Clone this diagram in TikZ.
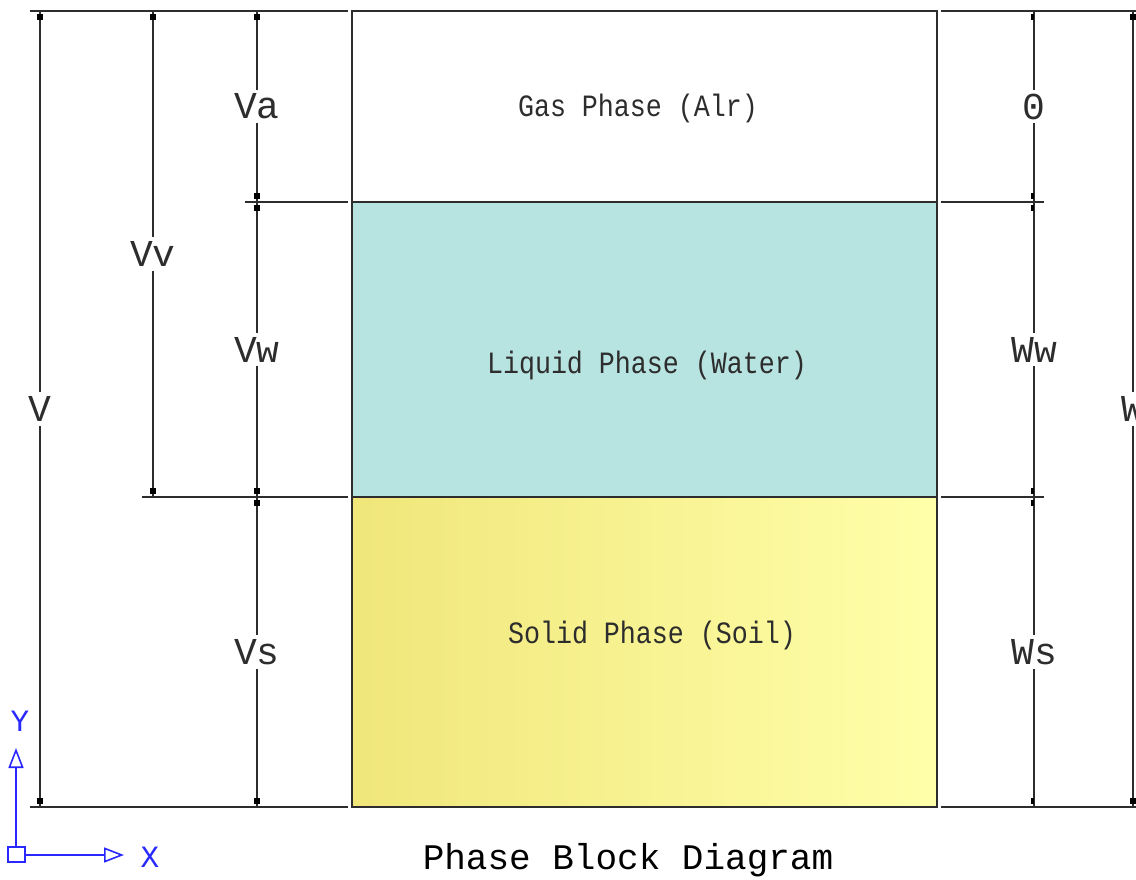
\documentclass[tikz,border=0pt]{standalone}
\usepackage{fontspec}
\setmainfont{Liberation Mono}
\newfontfamily\phasefont[FakeStretch=0.86]{Liberation Mono}
\usepackage{tikz}
\usetikzlibrary{arrows}
\usetikzlibrary{arrows.meta}
\usetikzlibrary{calc}
\usetikzlibrary{positioning}

\definecolor{cadline}{RGB}{45,45,45}
\definecolor{water}{RGB}{183,227,224}
\definecolor{soilleft}{RGB}{240,230,122}
\definecolor{soilright}{RGB}{255,255,170}
\definecolor{ucsblue}{RGB}{40,40,255}

\begin{document}
\begin{tikzpicture}[
    x=1pt, y=-1pt,
    dimline/.style={cadline, line width=2pt},
    dimlabel/.style={fill=white, inner sep=4pt, text=cadline,
      font=\fontsize{38}{38}\selectfont},
    phaselabel/.style={text=cadline, font=\phasefont\fontsize{31}{31}\selectfont},
    ucs/.style={ucsblue, line width=1.6pt}]

    \useasboundingbox (0, 0) rectangle (1136, 880);
    \clip (0, 0) rectangle (1136, 880);

    % phases
    \fill [water] (352, 202) rectangle (937, 497);
    \shade [left color=soilleft, right color=soilright]
    (352, 497) rectangle (937, 807);
    \draw [dimline] (352, 11) rectangle (937, 807);
    \draw [dimline] (352, 202) -- (937, 202);
    \draw [dimline] (352, 497) -- (937, 497);

    \node [phaselabel] (gas) at (638, 108) {Gas Phase (Alr)};
    \node [phaselabel] (liquid) at (647, 365) {Liquid Phase (Water)};
    \node [phaselabel] (solid) at (652, 635) {Solid Phase (Soil)};

    % extension lines
    \draw [dimline] (30, 11) -- (348, 11);
    \draw [dimline] (245, 202) -- (348, 202);
    \draw [dimline] (142, 497) -- (348, 497);
    \draw [dimline] (30, 807) -- (348, 807);
    \draw [dimline] (941, 11) -- (1136, 11);
    \draw [dimline] (941, 202) -- (1044, 202);
    \draw [dimline] (941, 497) -- (1044, 497);
    \draw [dimline] (941, 807) -- (1136, 807);

    % volumes
    \draw [dimline] (40, 11) -- node [dimlabel] (V) {V} (40, 807);
    \draw [dimline] (153, 11) -- node [dimlabel] (Vv) {Vv} (153, 497);
    \draw [dimline] (257, 11) -- node [dimlabel] (Va) {Va} (257, 202)
    -- node [dimlabel] (Vw) {Vw} (257, 497)
    -- node [dimlabel] (Vs) {Vs} (257, 807);

    % weights
    \draw [dimline] (1034, 11) -- node [dimlabel] (Wa) {0} (1034, 202)
    -- node [dimlabel] (Ww) {Ww} (1034, 497)
    -- node [dimlabel] (Ws) {Ws} (1034, 807);
    \draw [dimline] (1133, 11) -- node [dimlabel] (W) {W} (1133, 807);

    % end marks
    \foreach \x/\y in {40/17, 40/801, 153/17, 153/491,
      257/17, 257/196, 257/208, 257/491, 257/503, 257/801,
      1133/17, 1133/801}
    \fill (\x-3, \y-3) rectangle (\x+3, \y+3);
    \foreach \y in {17, 196, 208, 491, 503, 801}
    \fill (1031, \y-3) rectangle (1034, \y+3);

    % ucs icon
    \draw [ucs] (8, 847) rectangle (25, 862);
    \draw [ucs, -{Triangle[open, length=20pt, width=15pt]}]
    (16, 847) -- (16, 748);
    \draw [ucs, -{Triangle[open, length=20pt, width=15pt]}]
    (25, 855) -- (124, 855);
    \node [ucsblue, font=\fontsize{31}{31}\selectfont] (Y) at (20, 721) {Y};
    \node [ucsblue, font=\fontsize{31}{31}\selectfont] (X) at (150, 857) {X};

    \node [font=\fontsize{36}{36}\selectfont] (title) at (628, 860)
    {Phase Block Diagram};

  \end{tikzpicture}
\end{document}
